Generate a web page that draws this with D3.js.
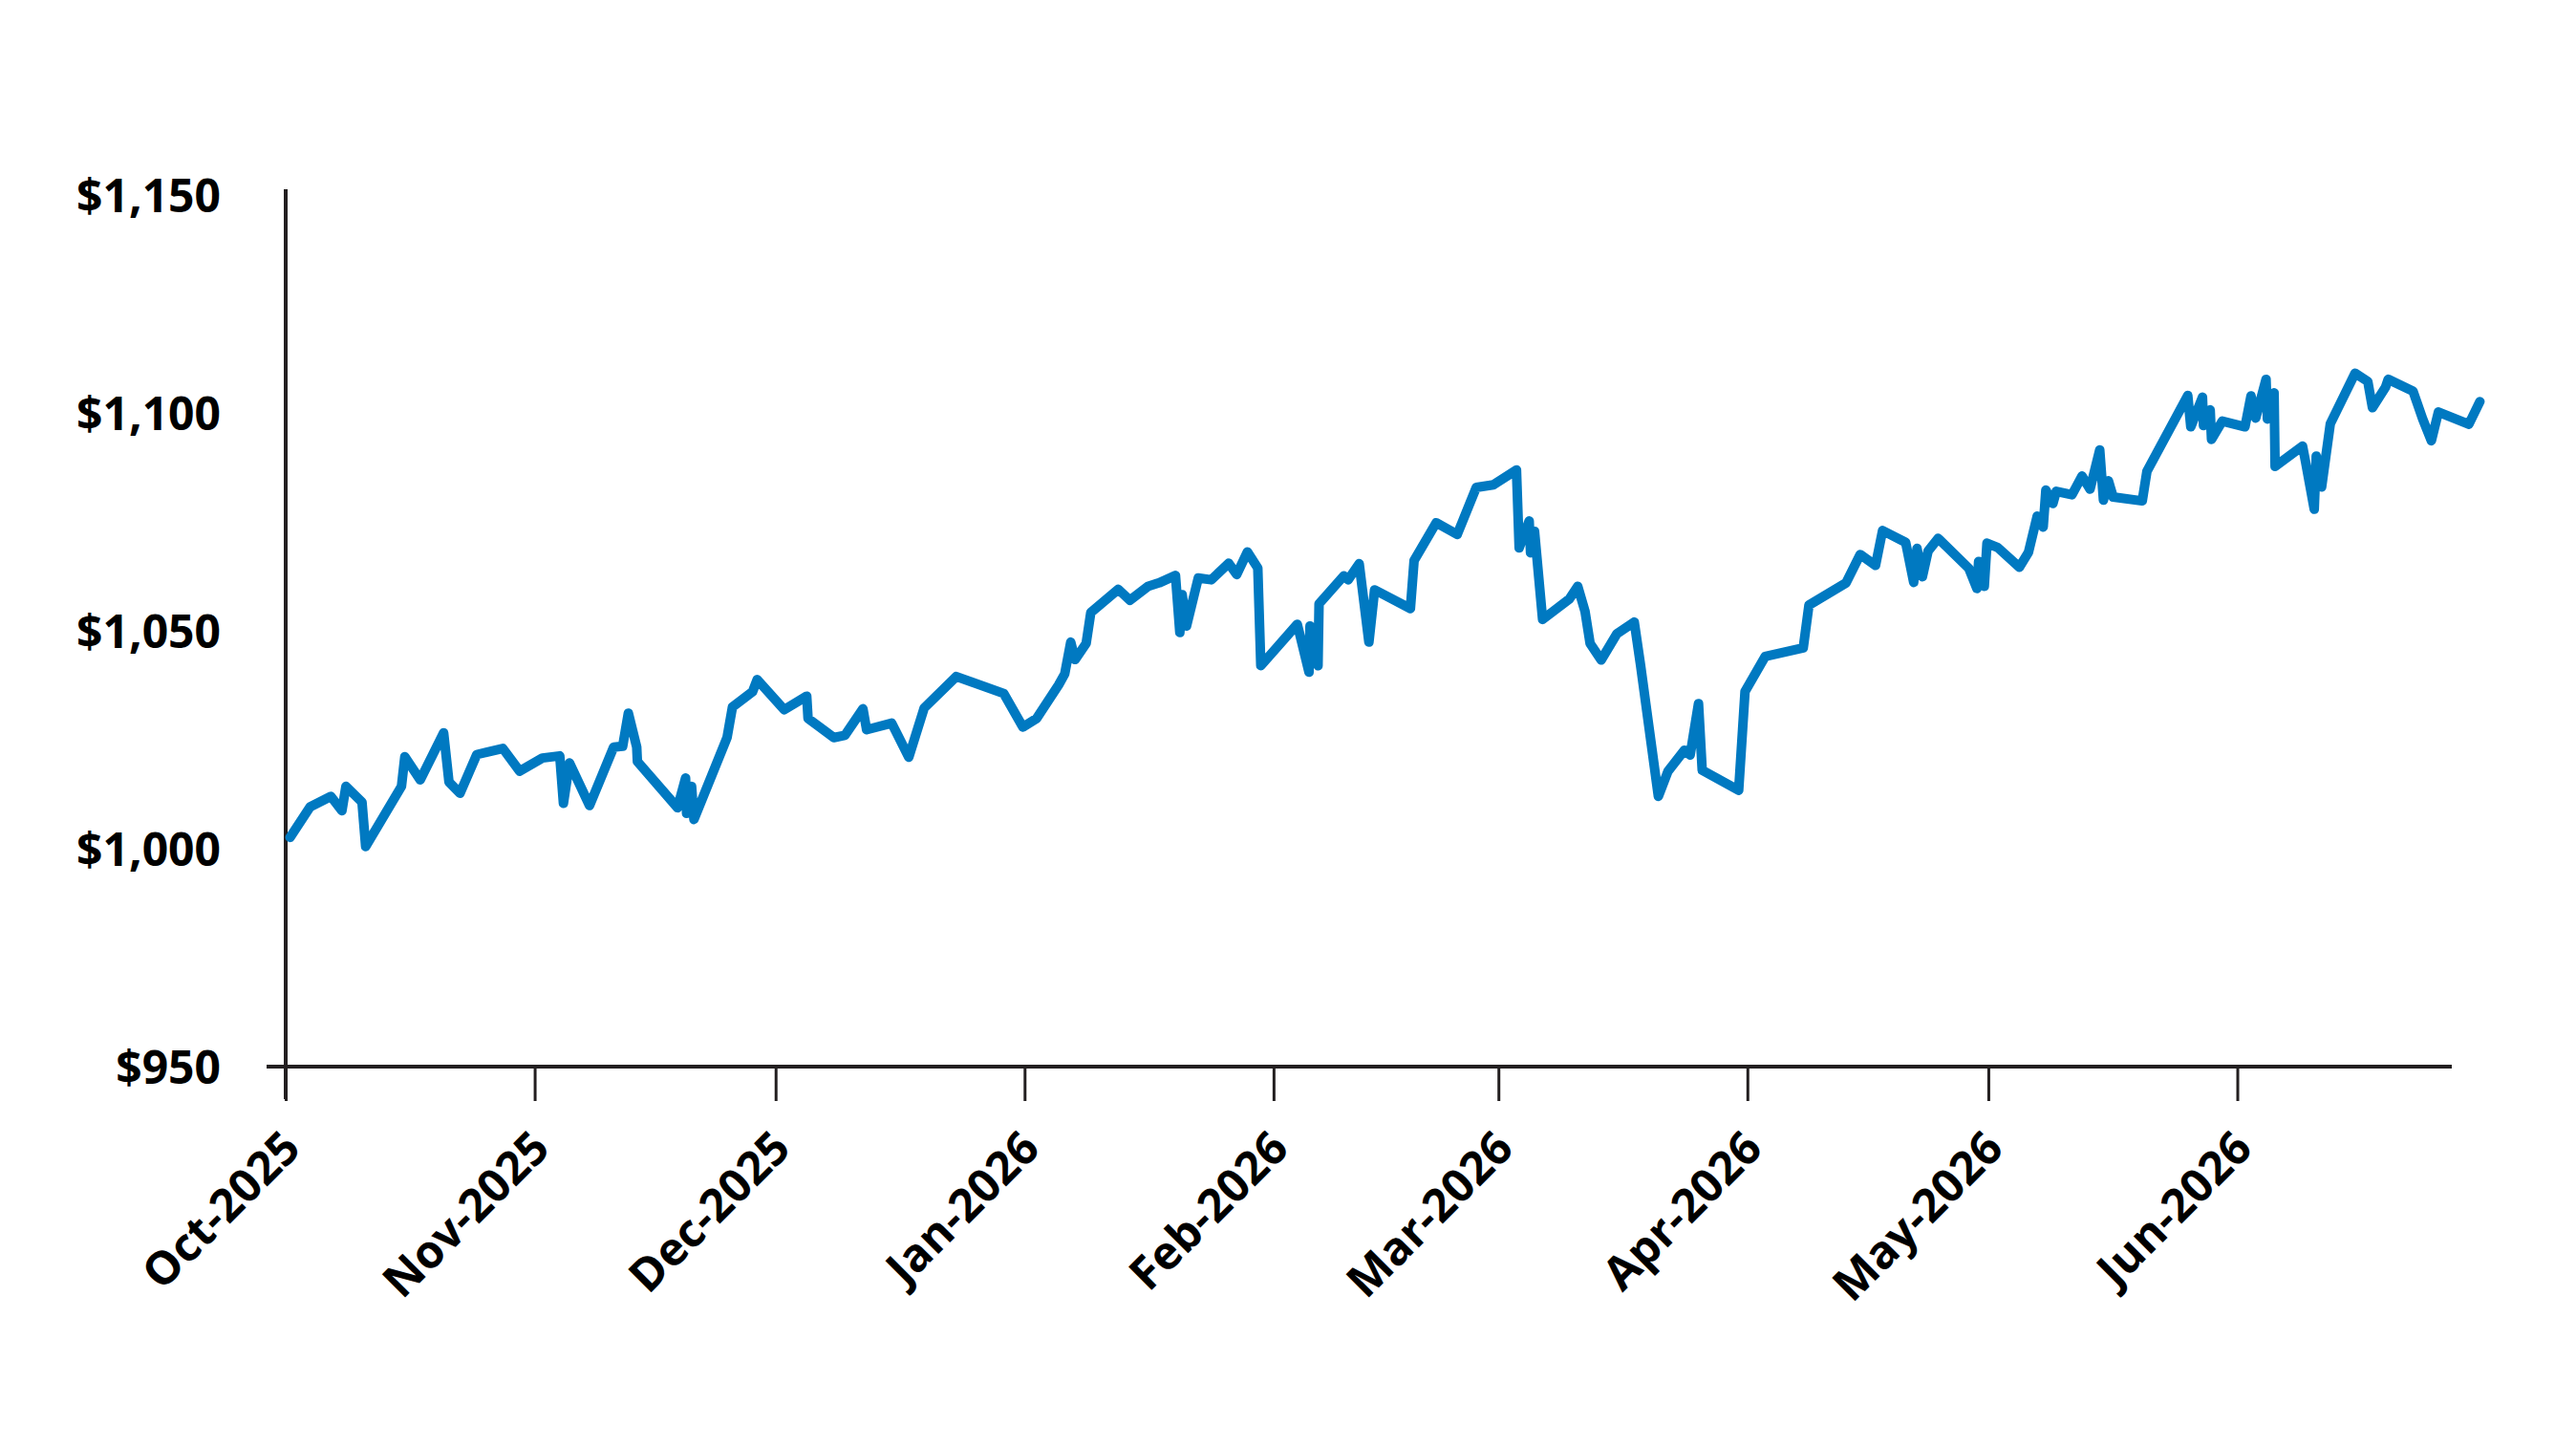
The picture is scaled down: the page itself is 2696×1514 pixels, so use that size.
<!DOCTYPE html>
<html>
<head>
<meta charset="utf-8">
<script src="https://cdn.jsdelivr.net/npm/d3@7"></script>
<style>
  body { margin: 0; background: #fff; }
  text { font-family: "Open Sans", "Noto Sans", sans-serif; font-weight: 700; fill: #000; }
</style>
</head>
<body>
<svg id="chart"></svg>
<script>
const width = 2696;
const height = 1514;

// values (date with hour, account value in $)
const dates = [
  "2025-10-01 13", "2025-10-04 01", "2025-10-06 15", "2025-10-08 00", "2025-10-08 12",
  "2025-10-10 12", "2025-10-10 23", "2025-10-15 10", "2025-10-15 20", "2025-10-17 18",
  "2025-10-20 16", "2025-10-21 08", "2025-10-22 17", "2025-10-24 19", "2025-10-28 01",
  "2025-10-30 03", "2025-11-01 23", "2025-11-04 03", "2025-11-04 14", "2025-11-05 08",
  "2025-11-07 20", "2025-11-10 20", "2025-11-11 23", "2025-11-12 16", "2025-11-13 17",
  "2025-11-13 19", "2025-11-18 19", "2025-11-19 19", "2025-11-19 22", "2025-11-20 13",
  "2025-11-20 20", "2025-11-24 23", "2025-11-25 15", "2025-11-28 03", "2025-11-28 17",
  "2025-12-02 02", "2025-12-04 21", "2025-12-05 01", "2025-12-08 06", "2025-12-09 15",
  "2025-12-11 21", "2025-12-12 08", "2025-12-15 11", "2025-12-17 14", "2025-12-19 12",
  "2025-12-23 12", "2025-12-29 10", "2025-12-31 19", "2026-01-02 12", "2026-01-05 06",
  "2026-01-06 00", "2026-01-06 18", "2026-01-07 07", "2026-01-08 16", "2026-01-09 06",
  "2026-01-12 16", "2026-01-14 03", "2026-01-16 09", "2026-01-17 18", "2026-01-19 19",
  "2026-01-20 08", "2026-01-20 15", "2026-01-21 04", "2026-01-22 15", "2026-01-24 06",
  "2026-01-26 10", "2026-01-27 10", "2026-01-28 18", "2026-01-30 01", "2026-01-30 10",
  "2026-02-03 23", "2026-02-05 10", "2026-02-05 13", "2026-02-06 13", "2026-02-06 16",
  "2026-02-09 18", "2026-02-10 07", "2026-02-11 16", "2026-02-12 21", "2026-02-13 14",
  "2026-02-18 01", "2026-02-18 12", "2026-02-21 06", "2026-02-23 21", "2026-02-26 06",
  "2026-02-28 09", "2026-03-03 06", "2026-03-03 14", "2026-03-04 20", "2026-03-05 00",
  "2026-03-05 12", "2026-03-06 12", "2026-03-09 20", "2026-03-10 21", "2026-03-11 19",
  "2026-03-12 10", "2026-03-13 19", "2026-03-15 18", "2026-03-17 22", "2026-03-18 17",
  "2026-03-20 22", "2026-03-22 03", "2026-03-24 04", "2026-03-24 21", "2026-03-25 22",
  "2026-03-26 09", "2026-03-30 22", "2026-03-31 17", "2026-04-03 05", "2026-04-07 23",
  "2026-04-08 16", "2026-04-13 07", "2026-04-15 01", "2026-04-16 23", "2026-04-17 20",
  "2026-04-20 17", "2026-04-21 17", "2026-04-22 03", "2026-04-22 19", "2026-04-23 12",
  "2026-04-24 18", "2026-04-28 14", "2026-04-29 14", "2026-04-29 19", "2026-04-30 12",
  "2026-04-30 20", "2026-05-02 04", "2026-05-04 21", "2026-05-06 00", "2026-05-07 02",
  "2026-05-07 20", "2026-05-08 04", "2026-05-09 01", "2026-05-09 11", "2026-05-11 10",
  "2026-05-12 16", "2026-05-13 16", "2026-05-14 21", "2026-05-15 08", "2026-05-15 23",
  "2026-05-16 13", "2026-05-20 04", "2026-05-20 18", "2026-05-25 20", "2026-05-26 05",
  "2026-05-27 16", "2026-05-27 19", "2026-05-28 15", "2026-05-28 19", "2026-05-30 03",
  "2026-06-01 23", "2026-06-02 17", "2026-06-03 07", "2026-06-04 14", "2026-06-04 18",
  "2026-06-05 14", "2026-06-05 17", "2026-06-09 03", "2026-06-09 12", "2026-06-10 14",
  "2026-06-10 20", "2026-06-11 12", "2026-06-12 14", "2026-06-15 16", "2026-06-17 06",
  "2026-06-17 20", "2026-06-19 11", "2026-06-19 19", "2026-06-22 21", "2026-06-24 02",
  "2026-06-25 04", "2026-06-26 01", "2026-06-29 20", "2026-07-01 05"
];

const values = [
  1002.6, 1009.6, 1012.0, 1008.7, 1014.3, 1010.7, 1000.5, 1014.3, 1021.1, 1015.8,
  1026.6, 1015.3, 1012.7, 1021.6, 1023.0, 1017.8, 1020.8, 1021.3, 1010.4, 1019.7,
  1009.9, 1023.3, 1023.5, 1031.1, 1023.3, 1020.0, 1009.4, 1016.2, 1008.1, 1014.3,
  1006.7, 1025.5, 1032.5, 1036.0, 1038.8, 1031.9, 1035.0, 1029.9, 1025.5, 1026.0,
  1032.1, 1027.3, 1028.8, 1021.0, 1032.3, 1039.5, 1035.6, 1027.9, 1029.9, 1037.6,
  1040.1, 1047.4, 1043.4, 1047.1, 1054.2, 1059.5, 1057.0, 1060.2, 1061.0, 1062.7,
  1049.6, 1058.3, 1051.1, 1062.1, 1061.7, 1065.5, 1062.9, 1068.1, 1064.4, 1042.0,
  1051.5, 1040.5, 1051.1, 1042.0, 1056.2, 1062.6, 1061.7, 1065.4, 1047.4, 1059.4,
  1055.1, 1066.1, 1074.8, 1072.1, 1082.9, 1083.5, 1086.9, 1069.0, 1075.2, 1067.9,
  1072.8, 1052.6, 1057.3, 1060.2, 1054.4, 1047.1, 1043.3, 1049.3, 1052.0, 1042.0,
  1012.0, 1017.8, 1022.6, 1021.5, 1033.3, 1018.0, 1013.4, 1036.1, 1044.1, 1046.1,
  1055.9, 1061.0, 1067.5, 1065.0, 1073.0, 1070.3, 1061.1, 1068.9, 1062.4, 1068.3,
  1071.2, 1064.3, 1059.7, 1065.9, 1060.2, 1070.1, 1069.1, 1064.6, 1068.0, 1076.3,
  1073.8, 1082.3, 1079.2, 1082.0, 1081.2, 1085.5, 1082.5, 1091.5, 1080.0, 1084.4,
  1080.7, 1079.8, 1086.6, 1104.0, 1096.8, 1103.6, 1097.1, 1100.7, 1093.9, 1098.1,
  1096.8, 1103.9, 1098.8, 1107.7, 1098.6, 1104.6, 1087.7, 1092.4, 1088.8, 1077.9,
  1090.1, 1083.0, 1097.5, 1109.1, 1107.2, 1101.2, 1105.9, 1107.7, 1105.0, 1098.6,
  1093.6, 1100.2, 1097.4, 1102.6
];

const yTicks = [950, 1000, 1050, 1100, 1150];
const monthTicks = [
  "2025-10-01", "2025-11-01", "2025-12-01", "2026-01-01", "2026-02-01",
  "2026-03-01", "2026-04-01", "2026-05-01", "2026-06-01"
];
const xStart = "2025-10-01 00";
const xEnd = "2026-06-27 17";

const parseHour = d3.timeParse("%Y-%m-%d %H");
const parseDay = d3.timeParse("%Y-%m-%d");
const fmtMonth = d3.timeFormat("%b-%Y");

const data = dates.map((d, i) => ({ date: parseHour(d), value: values[i] }));

const svg = d3.select("#chart")
    .attr("width", width)
    .attr("height", height);

svg.append("rect")
    .attr("width", width)
    .attr("height", height)
    .attr("fill", "#fff");

const x = d3.scaleTime()
    .domain([parseHour(xStart), parseHour(xEnd)])
    .range([299, 2566]);

const y = d3.scaleLinear()
    .domain([950, 1150])
    .range([1116, 204]);

// y axis: labels only, line drawn by hand so it runs a bit past the last tick
const yAxis = svg.append("g")
    .attr("transform", "translate(299,0)")
    .call(d3.axisLeft(y).tickValues(yTicks).tickSize(0).tickPadding(68)
      .tickFormat(d => "$" + d3.format(",")(d)));
yAxis.select(".domain").remove();
yAxis.selectAll("text")
    .attr("font-size", 48)
    .attr("dy", "0.36em");

svg.append("line")
    .attr("x1", 299).attr("x2", 299)
    .attr("y1", 198).attr("y2", 1150)
    .attr("stroke", "#231f20")
    .attr("stroke-width", 4);

// x axis
const xAxis = svg.append("g")
    .attr("transform", "translate(0,1116)")
    .call(d3.axisBottom(x).tickValues(monthTicks.map(parseDay)).tickSize(36).tickFormat(""));
xAxis.select(".domain").remove();
xAxis.selectAll(".tick line")
    .attr("stroke", "#231f20")
    .attr("stroke-width", 3);

svg.append("line")
    .attr("x1", 279).attr("x2", 2566)
    .attr("y1", 1116).attr("y2", 1116)
    .attr("stroke", "#231f20")
    .attr("stroke-width", 4);

svg.append("g")
  .selectAll("text")
  .data(monthTicks.map(parseDay))
  .join("text")
    .attr("transform", d => `translate(${x(d) + 18},${1116 + 88}) rotate(-45)`)
    .attr("text-anchor", "end")
    .attr("font-size", 48)
    .text(d => fmtMonth(d));

// the line itself
const line = d3.line()
    .x(d => x(d.date))
    .y(d => y(d.value));

svg.append("path")
    .datum(data)
    .attr("fill", "none")
    .attr("stroke", "#0079c1")
    .attr("stroke-width", 10)
    .attr("stroke-linejoin", "round")
    .attr("stroke-linecap", "round")
    .attr("d", line);
</script>
</body>
</html>
